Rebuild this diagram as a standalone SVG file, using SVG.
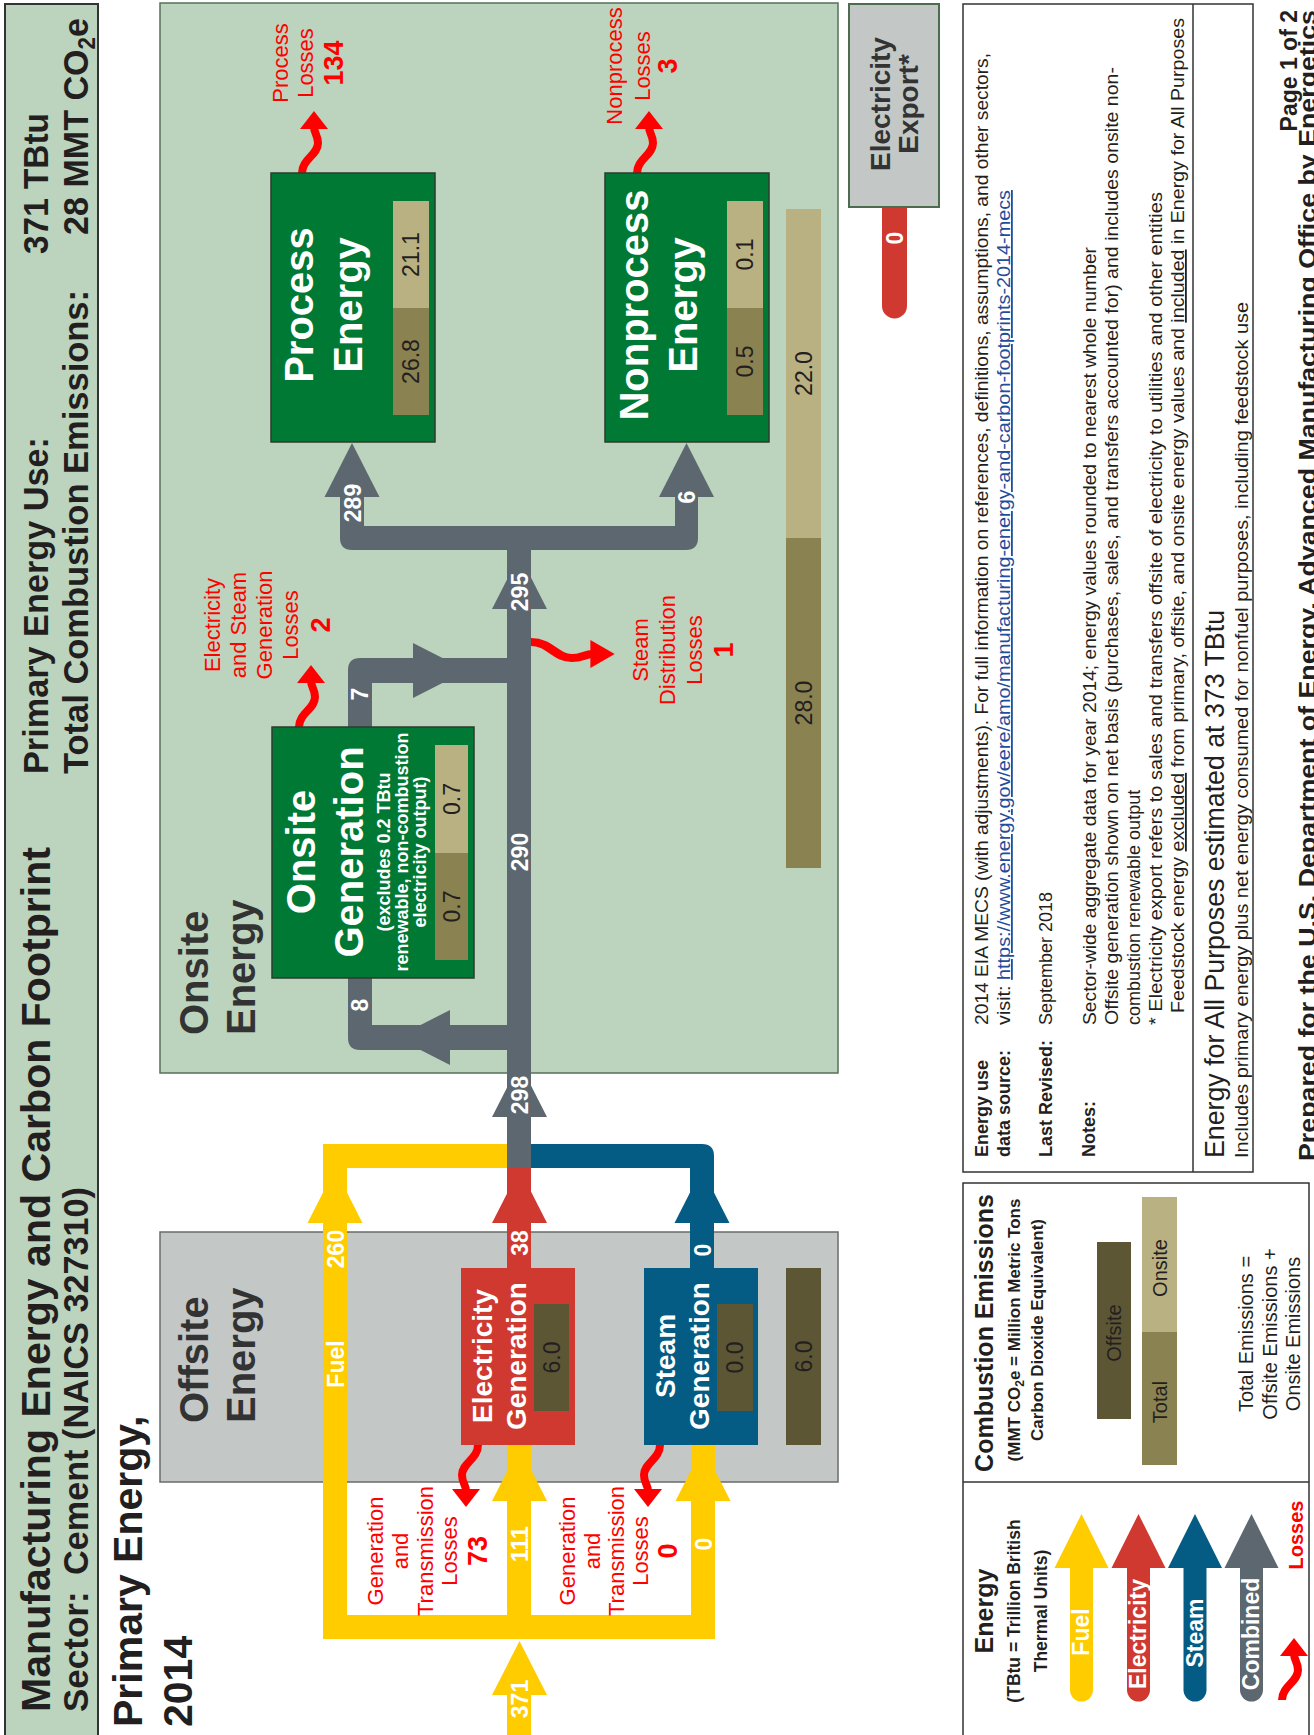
<svg xmlns="http://www.w3.org/2000/svg" width="1314" height="1735" viewBox="0 0 1314 1735">
<style>
text{font-family:"Liberation Sans",Arial,sans-serif;fill:#231f20}
.b{font-weight:bold}
.w{fill:#fff}
.r{fill:#ff0000}
.h{fill:#333}
.c{text-anchor:middle}
.e{text-anchor:end}
.bar0{fill:#5c5634}
.bar1{fill:#8b8251}
.bar2{fill:#b9b182}
.gray{fill:#5d6770}
.yel{fill:#ffcc00}
.red{fill:#d0392f}
.blue{fill:#045b84}
.node{stroke:#2d3b2f;stroke-width:1.5}
.num{font-size:23px;font-weight:bold;fill:#fff;text-anchor:middle}
.lbl{font-size:22px;fill:#ff0000;text-anchor:middle}
.lbl tspan.n{font-size:27px;font-weight:bold}
.val{font-size:23px;text-anchor:middle}
.note{font-size:18px}
</style>
<defs>
  <!-- wavy loss arrow, drawn pointing up from its origin -->
  <g id="loss">
    <path d="M0,0 C0,-14 16,-18 16,-30 C16,-38 12,-40 12,-46" fill="none" stroke="#ff0000" stroke-width="8"/>
    <polygon points="-2,-44 26,-44 12,-62" fill="#ff0000"/>
  </g>
  <!-- legend arrow with rounded tail, head base at origin -->
  <path id="arr" d="M-27,0 L0,-54 L27,0 L11.5,0 L11.5,122 A11.5,11.5 0 0 1 -11.5,122 L-11.5,0 Z"/>
</defs>

<rect width="1314" height="1735" fill="#fff"/>

<!-- header band -->
<g id="header">
  <rect x="5" y="4" width="93" height="1745" fill="#bcd4bd" stroke="#333" stroke-width="2"/>
  <text class="b" font-size="41" transform="translate(50,1712) rotate(-90)" textLength="865" lengthAdjust="spacingAndGlyphs">Manufacturing Energy and Carbon Footprint</text>
  <text class="b" font-size="35" transform="translate(88,1712) rotate(-90)">Sector:</text>
  <text class="b" font-size="35" transform="translate(88,1575) rotate(-90)" textLength="388" lengthAdjust="spacingAndGlyphs">Cement (NAICS 327310)</text>
  <text class="b" font-size="35" transform="translate(48,774) rotate(-90)" textLength="337" lengthAdjust="spacingAndGlyphs">Primary Energy Use:</text>
  <text class="b" font-size="35" transform="translate(88,774) rotate(-90)" textLength="484" lengthAdjust="spacingAndGlyphs">Total Combustion Emissions:</text>
  <text class="b" font-size="35" transform="translate(48,254) rotate(-90)" textLength="141" lengthAdjust="spacingAndGlyphs">371 TBtu</text>
  <text class="b" font-size="35" transform="translate(88,235) rotate(-90)" textLength="217" lengthAdjust="spacingAndGlyphs">28 MMT CO<tspan font-size="23" dy="7">2</tspan><tspan dy="-7">e</tspan></text>
</g>

<g id="page-title">
  <text class="b" font-size="41" transform="translate(142,1727) rotate(-90)"><tspan x="0" y="0">Primary Energy,</tspan><tspan x="0" y="50">2014</tspan></text>
</g>

<!-- site frames -->
<g id="onsite-energy">
  <rect x="160" y="3" width="678" height="1070" fill="#bcd4bd" stroke="#56705a" stroke-width="1.5"/>
  <text class="b h" font-size="40" transform="translate(208,1035) rotate(-90)"><tspan x="0" y="0">Onsite</tspan><tspan x="0" y="47">Energy</tspan></text>
  <rect class="bar2" x="786" y="209" width="35" height="329"/>
  <rect class="bar1" x="786" y="538" width="35" height="330"/>
  <text class="val" transform="translate(811.5,373.5) rotate(-90)">22.0</text>
  <text class="val" transform="translate(811.5,703) rotate(-90)">28.0</text>
</g>

<g id="offsite-energy">
  <rect x="160" y="1232" width="678" height="250" fill="#c3c8c7" stroke="#6b6b6b" stroke-width="1.5"/>
  <text class="b h" font-size="40" transform="translate(208,1423) rotate(-90)"><tspan x="0" y="0">Offsite</tspan><tspan x="0" y="47">Energy</tspan></text>
  <rect class="bar0" x="786" y="1268" width="35" height="177"/>
  <text class="val" transform="translate(811.5,1356.5) rotate(-90)">6.0</text>
</g>

<!-- connectors -->
<g id="connectors">
  <!-- fuel -->
  <rect class="yel" x="323" y="1144" width="24" height="495"/>
  <rect class="yel" x="323" y="1144" width="184" height="24"/>
  <rect class="yel" x="323" y="1615" width="392" height="24"/>
  <rect class="yel" x="507" y="1445" width="24" height="170"/>
  <rect class="yel" x="691" y="1445" width="24" height="194"/>
  <rect class="yel" x="507" y="1695" width="24" height="45"/>
  <polygon class="yel" points="492,1695 547,1695 519.5,1641"/>
  <polygon class="yel" points="307.5,1223 362.5,1223 335,1169"/>
  <polygon class="yel" points="492,1501 547,1501 519.5,1447"/>
  <polygon class="yel" points="675.5,1501 730.5,1501 703,1447"/>
  <!-- electricity -->
  <rect class="red" x="507" y="1168" width="24" height="100"/>
  <polygon class="red" points="492,1223 547,1223 519.5,1169"/>
  <!-- steam -->
  <path class="blue" d="M531,1144 L702,1144 Q714,1144 714,1156 L714,1268 L690,1268 L690,1168 L531,1168 Z"/>
  <polygon class="blue" points="674.5,1223 729.5,1223 702,1169"/>
  <!-- combined -->
  <rect class="gray" x="507" y="545" width="24" height="623"/>
  <polygon class="gray" points="492,1117 547,1117 519.5,1063"/>
  <polygon class="gray" points="492,609 547,609 519.5,555"/>
  <path class="gray" d="M340,497 L364,497 L364,526 L675,526 L675,497 L698,497 L698,538 Q698,550 686,550 L352,550 Q340,550 340,538 Z"/>
  <polygon class="gray" points="324.5,497 379.5,497 352,443"/>
  <polygon class="gray" points="659,497 714,497 686.5,443"/>
  <path class="gray" d="M348,978 L372,978 L372,1025 L507,1025 L507,1050 L360,1050 Q348,1050 348,1038 Z"/>
  <polygon class="gray" points="450,1010 450,1065 396,1037.5"/>
  <path class="gray" d="M348,727 L348,670 Q348,658 360,658 L507,658 L507,683 L372,683 L372,727 Z"/>
  <polygon class="gray" points="413,643 413,698 467,670.5"/>
  <!-- export -->
  <path class="red" d="M882,207 L882,306 A12.5,12.5 0 0 0 907,306 L907,207 Z"/>

  <!-- flow values -->
  <text class="num" transform="translate(528,1699) rotate(-90)">371</text>
  <text class="num" transform="translate(528,1544) rotate(-90)">111</text>
  <text class="num" transform="translate(711.5,1544) rotate(-90)">0</text>
  <text class="num" transform="translate(343.5,1249) rotate(-90)">260</text>
  <text class="num" font-size="24" transform="translate(343.5,1364) rotate(-90)">Fuel</text>
  <text class="num" transform="translate(528,1243) rotate(-90)">38</text>
  <text class="num" transform="translate(710.5,1250) rotate(-90)">0</text>
  <text class="num" transform="translate(528,1095) rotate(-90)">298</text>
  <text class="num" transform="translate(368,1005) rotate(-90)">8</text>
  <text class="num" transform="translate(528,852) rotate(-90)">290</text>
  <text class="num" transform="translate(368,694) rotate(-90)">7</text>
  <text class="num" transform="translate(528,592) rotate(-90)">295</text>
  <text class="num" transform="translate(361,503) rotate(-90)">289</text>
  <text class="num" transform="translate(695,497) rotate(-90)">6</text>
  <text class="num" transform="translate(903,238) rotate(-90)">0</text>

  <!-- losses -->
  <use href="#loss" transform="translate(302,173)"/>
  <use href="#loss" transform="translate(637,173)"/>
  <use href="#loss" transform="translate(299,727)"/>
  <use href="#loss" transform="translate(531,642) rotate(90) scale(1,1.35)"/>
  <use href="#loss" transform="translate(478,1445) rotate(180)"/>
  <use href="#loss" transform="translate(660,1445) rotate(180)"/>
  <text class="lbl" transform="translate(288,63) rotate(-90)"><tspan x="0" y="0">Process</tspan><tspan x="0" y="25">Losses</tspan><tspan class="n" x="0" y="55">134</tspan></text>
  <text class="lbl" transform="translate(622,66) rotate(-90)"><tspan x="0" y="0">Nonprocess</tspan><tspan x="0" y="28">Losses</tspan><tspan class="n" x="0" y="55">3</tspan></text>
  <text class="lbl" transform="translate(220,625) rotate(-90)"><tspan x="0" y="0">Electricity</tspan><tspan x="0" y="26">and Steam</tspan><tspan x="0" y="52">Generation</tspan><tspan x="0" y="78">Losses</tspan><tspan class="n" x="0" y="110">2</tspan></text>
  <text class="lbl" transform="translate(648,650) rotate(-90)"><tspan x="0" y="0">Steam</tspan><tspan x="0" y="27">Distribution</tspan><tspan x="0" y="54">Losses</tspan><tspan class="n" x="0" y="85">1</tspan></text>
  <text class="lbl" font-size="21" transform="translate(383,1551) rotate(-90)"><tspan x="0" y="0">Generation</tspan><tspan x="0" y="25">and</tspan><tspan x="0" y="50">Transmission</tspan><tspan x="0" y="74">Losses</tspan><tspan class="n" x="0" y="104">73</tspan></text>
  <text class="lbl" font-size="21" transform="translate(575,1551) rotate(-90)"><tspan x="0" y="0">Generation</tspan><tspan x="0" y="25">and</tspan><tspan x="0" y="49">Transmission</tspan><tspan x="0" y="73">Losses</tspan><tspan class="n" x="0" y="102">0</tspan></text>
</g>

<!-- nodes -->
<g id="process-energy">
  <rect class="node" x="271" y="173" width="164" height="269" fill="#007934"/>
  <text class="b w c" font-size="40" transform="translate(313,305) rotate(-90)"><tspan x="0" y="0">Process</tspan><tspan x="0" y="49">Energy</tspan></text>
  <rect class="bar2" x="393" y="201" width="36" height="107"/>
  <rect class="bar1" x="393" y="308" width="36" height="107"/>
  <text class="val" transform="translate(419,254.5) rotate(-90)">21.1</text>
  <text class="val" transform="translate(419,361.5) rotate(-90)">26.8</text>
</g>

<g id="nonprocess-energy">
  <rect class="node" x="605" y="173" width="164" height="269" fill="#007934"/>
  <text class="b w c" font-size="40" transform="translate(648,305) rotate(-90)"><tspan x="0" y="0">Nonprocess</tspan><tspan x="0" y="49">Energy</tspan></text>
  <rect class="bar2" x="727" y="201" width="36" height="107"/>
  <rect class="bar1" x="727" y="308" width="36" height="107"/>
  <text class="val" transform="translate(753,254.5) rotate(-90)">0.1</text>
  <text class="val" transform="translate(753,361.5) rotate(-90)">0.5</text>
</g>

<g id="onsite-generation">
  <rect class="node" x="272" y="727" width="202" height="251" fill="#007934"/>
  <text class="b w c" font-size="40" transform="translate(315,852) rotate(-90)"><tspan x="0" y="0">Onsite</tspan><tspan x="0" y="48">Generation</tspan></text>
  <text class="b w c" font-size="18" transform="translate(390,852) rotate(-90)"><tspan x="0" y="0">(excludes 0.2 TBtu</tspan><tspan x="0" y="18">renewable, non-combustion</tspan><tspan x="0" y="36">electricity output)</tspan></text>
  <rect class="bar2" x="435" y="745" width="33" height="108"/>
  <rect class="bar1" x="435" y="853" width="33" height="107"/>
  <text class="val" transform="translate(460,799) rotate(-90)">0.7</text>
  <text class="val" transform="translate(460,906.5) rotate(-90)">0.7</text>
</g>

<g id="electricity-generation">
  <rect x="461" y="1268" width="114" height="177" fill="#d0392f"/>
  <text class="b w c" font-size="28" transform="translate(492,1356) rotate(-90)"><tspan x="0" y="0">Electricity</tspan><tspan x="0" y="34">Generation</tspan></text>
  <rect class="bar0" x="534" y="1304" width="35" height="107"/>
  <text class="val" transform="translate(559.5,1357.5) rotate(-90)">6.0</text>
</g>

<g id="steam-generation">
  <rect x="644" y="1268" width="114" height="177" fill="#045b84"/>
  <text class="b w c" font-size="28" transform="translate(675,1356) rotate(-90)"><tspan x="0" y="0">Steam</tspan><tspan x="0" y="34">Generation</tspan></text>
  <rect class="bar0" x="717" y="1304" width="36" height="107"/>
  <text class="val" transform="translate(743,1357.5) rotate(-90)">0.0</text>
</g>

<g id="electricity-export">
  <rect x="849" y="4" width="90" height="203" fill="#c3c8c7" stroke="#4d6b4f" stroke-width="2"/>
  <text class="b h c" font-size="28" transform="translate(890,104) rotate(-90)"><tspan x="0" y="0">Electricity</tspan><tspan x="0" y="28">Export*</tspan></text>
</g>

<!-- notes -->
<g id="notes">
  <rect x="963" y="4" width="290" height="1168" fill="none" stroke="#333" stroke-width="1.5"/>
  <line x1="1193" y1="4" x2="1193" y2="1172" stroke="#333" stroke-width="1.5"/>
  <text class="note b" transform="translate(988,1157) rotate(-90)">Energy use</text>
  <text class="note b" transform="translate(1010,1157) rotate(-90)">data source:</text>
  <text class="note b" transform="translate(1052,1157) rotate(-90)">Last Revised:</text>
  <text class="note b" transform="translate(1095,1157) rotate(-90)">Notes:</text>
  <text class="note" transform="translate(988,1025) rotate(-90)" textLength="972" lengthAdjust="spacingAndGlyphs">2014 EIA MECS (with adjustments). For full information on references, definitions, assumptions, and other sectors,</text>
  <text class="note" transform="translate(1010,1025) rotate(-90)" textLength="835" lengthAdjust="spacingAndGlyphs">visit: <tspan fill="#1f4e9c" text-decoration="underline">https://www.energy.gov/eere/amo/manufacturing-energy-and-carbon-footprints-2014-mecs</tspan></text>
  <text class="note" transform="translate(1052,1025) rotate(-90)">September 2018</text>
  <text class="note" transform="translate(1096,1025) rotate(-90)" textLength="778" lengthAdjust="spacingAndGlyphs">Sector-wide aggregate data for year 2014; energy values rounded to nearest whole number</text>
  <text class="note" transform="translate(1118,1025) rotate(-90)" textLength="958" lengthAdjust="spacingAndGlyphs">Offsite generation shown on net basis (purchases, sales, and transfers accounted for) and includes onsite non-</text>
  <text class="note" transform="translate(1140,1025) rotate(-90)">combustion renewable output</text>
  <text class="note" transform="translate(1162,1025) rotate(-90)" textLength="833" lengthAdjust="spacingAndGlyphs">* Electricity export refers to sales and transfers offsite of electricity to utilities and other entities</text>
  <text class="note" transform="translate(1184,1013) rotate(-90)" textLength="995" lengthAdjust="spacingAndGlyphs">Feedstock energy <tspan text-decoration="underline">excluded</tspan> from primary, offsite, and onsite energy values and <tspan text-decoration="underline">included</tspan> in Energy for All Purposes</text>
  <text font-size="28" transform="translate(1224,1158) rotate(-90)" textLength="548" lengthAdjust="spacingAndGlyphs">Energy for All Purposes estimated at 373 TBtu</text>
  <text font-size="18.5" transform="translate(1248,1158) rotate(-90)" textLength="856" lengthAdjust="spacingAndGlyphs">Includes primary energy plus net energy consumed for nonfuel purposes, including feedstock use</text>
</g>

<g id="footer">
  <text class="b e" font-size="23" transform="translate(1297,10) rotate(-90)">Page 1 of 2</text>
  <text class="b e" font-size="23" transform="translate(1316,10) rotate(-90)" textLength="1151" lengthAdjust="spacingAndGlyphs">Prepared for the U.S. Department of Energy, Advanced Manufacturing Office by Energetics</text>
</g>

<!-- legend -->
<g id="legend">
  <rect x="963" y="1183" width="346" height="560" fill="none" stroke="#333" stroke-width="1.5"/>
  <line x1="963" y1="1482" x2="1309" y2="1482" stroke="#333" stroke-width="1.5"/>
  <text class="b c" font-size="25" transform="translate(993,1333) rotate(-90)">Combustion Emissions</text>
  <text class="b c" font-size="17" transform="translate(1020,1330) rotate(-90)"><tspan x="0" y="0">(MMT CO<tspan font-size="12" dy="4">2</tspan><tspan dy="-4">e = Million Metric Tons</tspan></tspan><tspan x="0" y="23">Carbon Dioxide Equivalent)</tspan></text>
  <rect class="bar0" x="1097" y="1242" width="34" height="177"/>
  <text class="c" font-size="20" transform="translate(1121,1333) rotate(-90)">Offsite</text>
  <rect class="bar2" x="1142" y="1197" width="35" height="135"/>
  <rect class="bar1" x="1142" y="1332" width="35" height="133"/>
  <text class="c" font-size="20" transform="translate(1167,1268) rotate(-90)">Onsite</text>
  <text class="c" font-size="20" transform="translate(1167,1402) rotate(-90)">Total</text>
  <text class="c" font-size="20" transform="translate(1253,1334) rotate(-90)"><tspan x="0" y="0">Total Emissions =</tspan><tspan x="0" y="24">Offsite Emissions +</tspan><tspan x="0" y="47">Onsite Emissions</tspan></text>

  <text class="b c" font-size="25" transform="translate(993,1611) rotate(-90)">Energy</text>
  <text class="b c" font-size="17.5" transform="translate(1020,1611) rotate(-90)"><tspan x="0" y="0">(TBtu = Trillion British</tspan><tspan x="0" y="27">Thermal Units)</tspan></text>
  <use href="#arr" class="yel" transform="translate(1081.5,1568)"/>
  <use href="#arr" class="red" transform="translate(1138.5,1568)"/>
  <use href="#arr" class="blue" transform="translate(1195,1568)"/>
  <use href="#arr" class="gray" transform="translate(1251.5,1568)"/>
  <text class="num" font-size="22" transform="translate(1089,1632) rotate(-90)">Fuel</text>
  <text class="num" font-size="22" transform="translate(1146,1634) rotate(-90)">Electricity</text>
  <text class="num" font-size="22" transform="translate(1203,1633) rotate(-90)">Steam</text>
  <text class="num" font-size="22" transform="translate(1259,1634) rotate(-90)">Combined</text>
  <use href="#loss" transform="translate(1282,1700)"/>
  <text class="b r c" font-size="20" transform="translate(1303,1535) rotate(-90)">Losses</text>
</g>
</svg>
